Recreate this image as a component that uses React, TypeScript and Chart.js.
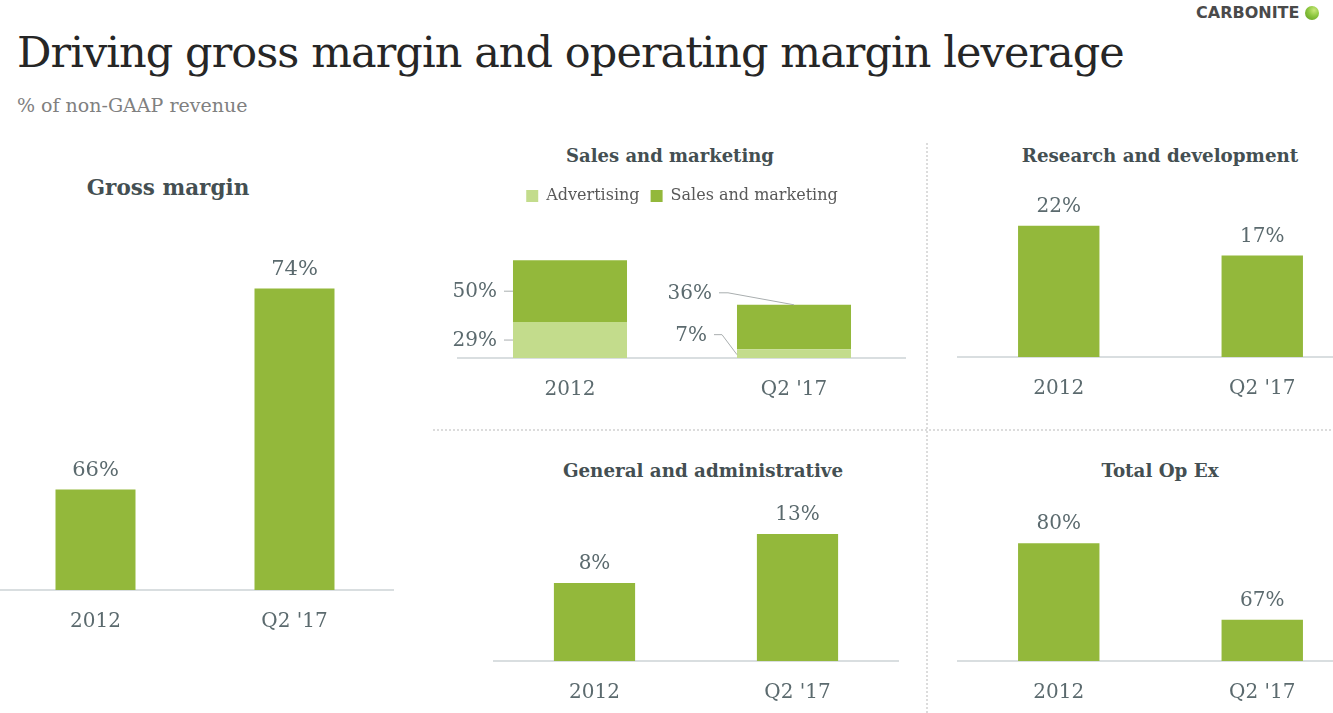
import React, { useEffect, useRef } from "react";
import { Chart, registerables } from "chart.js";

Chart.register(...registerables);

// ---- data ----
const categories = ["2012", "Q2 '17"];
const grossMargin = [66, 74];
const advertising = [29, 7];
const salesAndMarketing = [50, 36];
const researchAndDevelopment = [22, 17];
const generalAndAdministrative = [8, 13];
const totalOpEx = [80, 67];

// ---- styles ----
const SERIF = "'DejaVu Serif', Georgia, serif";
const DARK_GREEN = "#93b83b";
const LIGHT_GREEN = "#c3dc8c";
const LABEL_COLOR = "#5b6a6e";
const TITLE_COLOR = "#444f52";
const AXIS_COLOR = "#d9dee0";
const LEADER_COLOR = "#a9aeaf";

const valueLabelPlugin = {
  id: "valueLabels",
  afterDatasetsDraw(chart: any, _args: any, opts: any) {
    if (!opts || !opts.display) return;
    const ctx = chart.ctx;
    ctx.save();
    ctx.font = `${opts.size || 20}px ${SERIF}`;
    ctx.fillStyle = LABEL_COLOR;
    ctx.textAlign = "center";
    ctx.textBaseline = "alphabetic";
    chart.data.datasets.forEach((ds: any, di: number) => {
      const meta = chart.getDatasetMeta(di);
      meta.data.forEach((el: any, i: number) => {
        ctx.fillText(`${ds.data[i]}%`, el.x, el.y - opts.gap);
      });
    });
    ctx.restore();
  },
};

// leader-line labels for the stacked chart
const leaderLabelPlugin = {
  id: "leaderLabels",
  afterDatasetsDraw(chart: any, _args: any, opts: any) {
    if (!opts || !opts.display) return;
    const ctx = chart.ctx;
    ctx.save();
    ctx.font = `20px ${SERIF}`;
    ctx.textAlign = "right";
    ctx.textBaseline = "middle";
    chart.data.datasets.forEach((ds: any, di: number) => {
      const meta = chart.getDatasetMeta(di);
      meta.data.forEach((el: any, i: number) => {
        const st = opts.styles[i][di];
        const left = el.x - el.width / 2;
        const mid = (el.y + el.base) / 2;
        const anchor =
          st.anchor === "top" ? { x: el.x, y: el.y } : { x: left, y: mid + (st.anchorDy || 0) };
        const ly = anchor.y + st.dy;
        const lx = left - st.dx;
        ctx.strokeStyle = LEADER_COLOR;
        ctx.lineWidth = 1;
        ctx.beginPath();
        ctx.moveTo(lx + 7, ly);
        ctx.lineTo(lx + 7 + st.run, ly);
        ctx.lineTo(anchor.x, anchor.y);
        ctx.stroke();
        ctx.fillStyle = LABEL_COLOR;
        ctx.fillText(`${ds.data[i]}%`, lx, ly + 1);
      });
    });
    ctx.restore();
  },
};

function xAxis() {
  return {
    grid: { display: false, drawTicks: false },
    border: { display: true, color: AXIS_COLOR, width: 2 },
    ticks: { color: LABEL_COLOR, font: { family: SERIF, size: 20 }, padding: 20 },
    afterFit: (s: any) => {
      s.height = 60;
    },
  };
}

type PanelProps = {
  left: number;
  top: number;
  width: number;
  height: number;
  make: () => any;
};

function Panel({ left, top, width, height, make }: PanelProps) {
  const ref = useRef<HTMLCanvasElement | null>(null);
  useEffect(() => {
    const chart = new Chart(ref.current as HTMLCanvasElement, make());
    return () => chart.destroy();
  }, []);
  return (
    <canvas
      ref={ref}
      width={width}
      height={height}
      style={{ position: "absolute", left, top, width, height }}
    />
  );
}

function simpleBar(values: number[], min: number, max: number, barPct: number, labelSize = 20) {
  return () => ({
    type: "bar",
    data: {
      labels: categories,
      datasets: [
        { data: values, backgroundColor: DARK_GREEN, borderWidth: 0, barPercentage: barPct, categoryPercentage: 1 },
      ],
    },
    options: {
      animation: false,
      responsive: false,
      layout: { padding: 0 },
      plugins: {
        legend: { display: false },
        tooltip: { enabled: false },
        valueLabels: { display: true, gap: 14, size: labelSize },
      },
      scales: { x: xAxis(), y: { display: false, min, max } },
    },
    plugins: [valueLabelPlugin],
  });
}

function salesChart() {
  return {
    type: "bar",
    data: {
      labels: categories,
      datasets: [
        { label: "Advertising", data: advertising, backgroundColor: LIGHT_GREEN, borderWidth: 0, barPercentage: 0.509, categoryPercentage: 1 },
        { label: "Sales and marketing", data: salesAndMarketing, backgroundColor: DARK_GREEN, borderWidth: 0, barPercentage: 0.509, categoryPercentage: 1 },
      ],
    },
    options: {
      animation: false,
      responsive: false,
      layout: { padding: { left: 28, right: 0, top: 0, bottom: 0 } },
      plugins: {
        tooltip: { enabled: false },
        legend: {
          display: true,
          position: "top",
          labels: { boxWidth: 12, boxHeight: 12, padding: 11, color: "#595959", font: { family: SERIF, size: 16 } },
        },
        leaderLabels: {
          display: true,
          styles: [
            [
              { anchor: "edge", dx: 16, dy: 0, run: 2 },
              { anchor: "edge", dx: 16, dy: 0, run: 2 },
            ],
            [
              { anchor: "edge", dx: 30, dy: -20, run: 8, anchorDy: 1 },
              { anchor: "top", dx: 25, dy: -12, run: 9 },
            ],
          ],
        },
      },
      scales: {
        x: { ...xAxis(), stacked: true },
        y: { display: false, stacked: true, min: 0, max: 116.4 },
      },
    },
    plugins: [leaderLabelPlugin],
  };
}

const panelTitle = (text: string, cx: number, cy: number, size = 18) => (
  <div
    style={{
      position: "absolute",
      left: cx,
      top: cy,
      transform: "translate(-50%, -50%)",
      fontFamily: SERIF,
      fontWeight: "bold",
      fontSize: size,
      lineHeight: 1,
      color: TITLE_COLOR,
      whiteSpace: "nowrap",
    }}
  >
    {text}
  </div>
);

export default function App() {
  return (
    <div
      style={{
        position: "fixed",
        left: 0,
        top: 0,
        width: 1333,
        height: 713,
        overflow: "hidden",
        background: "#ffffff",
        fontFamily: SERIF,
      }}
    >
      {/* logo */}
      <div
        style={{
          position: "absolute",
          left: 1196,
          top: 4,
          fontFamily: "'DejaVu Sans', sans-serif",
          fontWeight: "bold",
          fontSize: 16,
          lineHeight: "18px",
          letterSpacing: 0,
          color: "#4a4a4a",
          whiteSpace: "nowrap",
        }}
      >
        CARBONITE
      </div>
      <div
        style={{
          position: "absolute",
          left: 1305,
          top: 6,
          width: 14,
          height: 14,
          borderRadius: "50%",
          background: "radial-gradient(circle at 65% 30%, #c8e87a 0%, #8cc63f 45%, #5d9a1f 100%)",
        }}
      />

      {/* title */}
      <div
        style={{
          position: "absolute",
          left: 17,
          top: 31,
          fontSize: 43,
          letterSpacing: -0.95,
          lineHeight: 1,
          color: "#262626",
          whiteSpace: "nowrap",
        }}
      >
        Driving gross margin and operating margin leverage
      </div>
      <div
        style={{
          position: "absolute",
          left: 17,
          top: 105,
          transform: "translateY(-50%)",
          fontSize: 19,
          lineHeight: 1,
          color: "#808080",
          whiteSpace: "nowrap",
        }}
      >
        % of non-GAAP revenue
      </div>

      {/* dividers */}
      <div
        style={{
          position: "absolute",
          left: 926,
          top: 143,
          width: 2,
          height: 570,
          background: "repeating-linear-gradient(to bottom, #dcdcdc 0 2px, transparent 2px 4px)",
        }}
      />
      <div
        style={{
          position: "absolute",
          left: 433,
          top: 429,
          width: 900,
          height: 2,
          background: "repeating-linear-gradient(to right, #dcdcdc 0 2px, transparent 2px 4px)",
        }}
      />

      {/* panel titles */}
      {panelTitle("Gross margin", 168, 188, 21.5)}
      {panelTitle("Sales and marketing", 670, 156)}
      {panelTitle("Research and development", 1160, 156, 18.3)}
      {panelTitle("General and administrative", 703, 471, 18.3)}
      {panelTitle("Total Op Ex", 1160, 471, 18.3)}

      {/* charts */}
      <Panel left={-4} top={188} width={398} height={462} make={simpleBar(grossMargin, 62, 78, 0.402, 21)} />
      <Panel left={430} top={177} width={476} height={241} make={salesChart} />
      <Panel left={957} top={178} width={407} height={239} make={simpleBar(researchAndDevelopment, 0, 30, 0.4)} />
      <Panel left={493} top={495} width={406} height={226} make={simpleBar(generalAndAdministrative, 0, 17, 0.4)} />
      <Panel left={957} top={502} width={407} height={219} make={simpleBar(totalOpEx, 60, 87, 0.4)} />
    </div>
  );
}
